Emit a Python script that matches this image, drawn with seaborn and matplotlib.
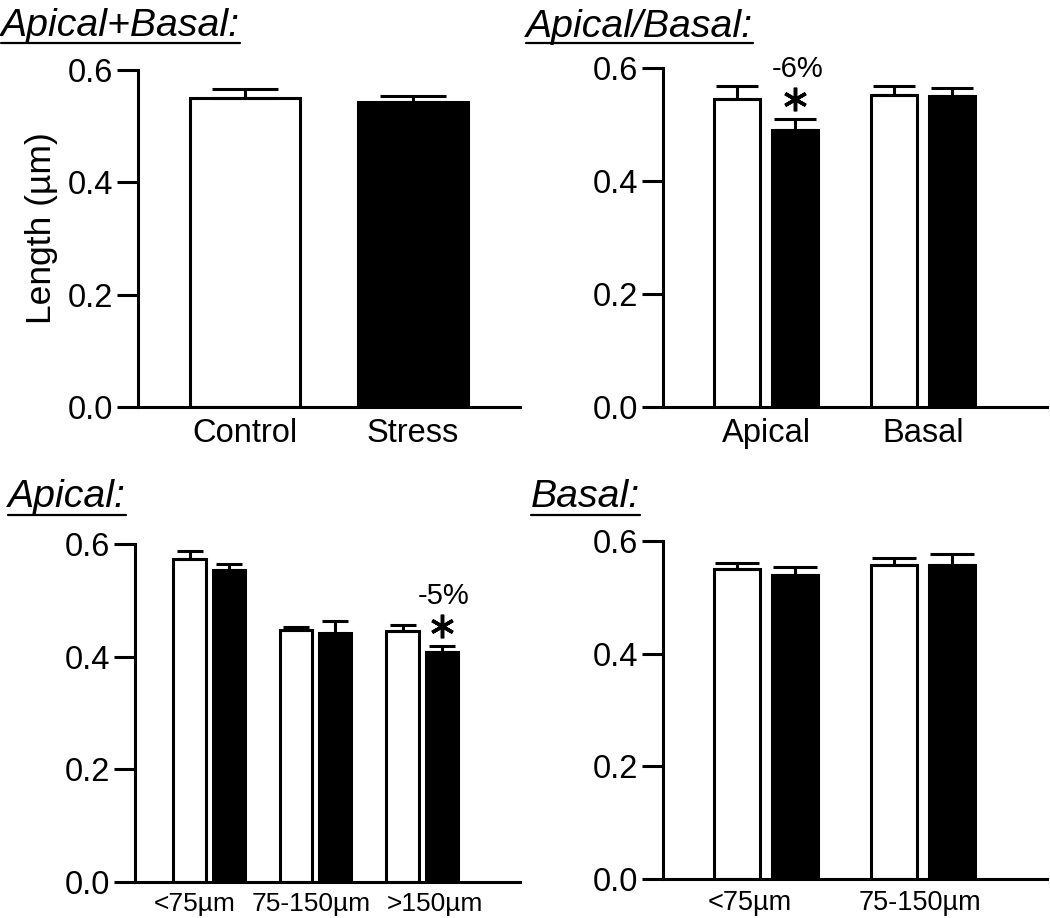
import pandas as pd
import numpy as np
import matplotlib.pyplot as plt
from matplotlib.lines import Line2D
from matplotlib.transforms import ScaledTranslation
import seaborn as sns

# ── Data ───────────────────────────────────────────────────────────────────
conditions = ["Control", "Stress"]

# Apical+Basal pooled
pooled_mean = [0.551, 0.543]
pooled_sem = [0.015, 0.011]

# Apical / Basal split
region_labels = ["Apical", "Basal"]
region_ctrl = [0.546, 0.552]
region_ctrl_sem = [0.023, 0.016]
region_stress = [0.491, 0.550]
region_stress_sem = [0.019, 0.014]

# Apical by distance
apical_labels = ["<75µm", "75-150µm", ">150µm"]
apical_ctrl = [0.574, 0.448, 0.446]
apical_ctrl_sem = [0.014, 0.005, 0.010]
apical_stress = [0.554, 0.442, 0.409]
apical_stress_sem = [0.010, 0.022, 0.010]

# Basal by distance
basal_labels = ["<75µm", "75-150µm"]
basal_ctrl = [0.550, 0.557]
basal_ctrl_sem = [0.0115, 0.012]
basal_stress = [0.540, 0.557]
basal_stress_sem = [0.013, 0.0205]

# ── Style ──────────────────────────────────────────────────────────────────
sns.set_style("ticks")
plt.rcParams["font.family"] = ["Liberation Sans", "DejaVu Sans"]
plt.rcParams["text.color"] = "black"
plt.rcParams["axes.labelcolor"] = "black"
PALETTE = {"Control": "white", "Stress": "black"}
LW = 2.2

W, H = 1050, 918
fig = plt.figure(figsize=(W / 100, H / 100), dpi=100)


def ax_at(l, r, t, b):
    return fig.add_axes([l / W, 1 - b / H, (r - l) / W, (b - t) / H])


def grouped_df(labels, ctrl, stress):
    return pd.DataFrame({
        "group": labels * 2,
        "cond": ["Control"] * len(labels) + ["Stress"] * len(labels),
        "value": list(ctrl) + list(stress),
    })


def style_axis(ax, xlim, xfont, xpad):
    ax.set_ylim(0, 0.6)
    ax.set_yticks([0.0, 0.2, 0.4, 0.6])
    ax.set_yticklabels(["0.0", "0.2", "0.4", "0.6"])
    ax.set_xlim(*xlim)
    sns.despine(ax=ax)
    for s in ["left", "bottom"]:
        ax.spines[s].set_linewidth(LW)
        ax.spines[s].set_color("black")
    ax.tick_params(axis="y", length=15, width=LW, color="black",
                   labelsize=23.5, pad=3, labelcolor="black")
    ax.tick_params(axis="x", length=0, labelsize=xfont, pad=xpad,
                   labelcolor="black")
    ax.set_xlabel("")
    ax.set_ylabel("")


def shift_xlabels(ax, shifts_px):
    # nudge category labels sideways (pixels)
    for lab, dx in zip(ax.get_xticklabels(), shifts_px):
        lab.set_transform(lab.get_transform()
                          + ScaledTranslation(dx / 100, 0, fig.dpi_scale_trans))


def add_errors(ax, sems, capsize):
    bars = ax.patches
    xs = [p.get_x() + p.get_width() / 2 for p in bars]
    ys = [p.get_height() for p in bars]
    ax.errorbar(xs, ys, yerr=[np.zeros(len(sems)), sems], fmt="none",
                ecolor="black", elinewidth=LW, capsize=capsize,
                capthick=LW, zorder=1)
    return xs, ys


def add_star(ax, x, top, pct):
    ax.plot([x], [top + 0.036], marker=(6, 2, 0), markersize=17,
            markeredgewidth=2.5, color="black", clip_on=False)
    ax.text(x + 0.02, top + 0.088, pct, ha="center", va="center",
            fontsize=21, color="black", clip_on=False)


def panel_title(x, y_base, y_line, text):
    t = fig.text(x / W, 1 - y_base / H, text, fontsize=28.3, style="italic",
                 ha="left", va="baseline", color="black")
    return t, y_line


# ── Panel 1: Apical+Basal ──────────────────────────────────────────────────
ax1 = ax_at(138, 520, 70, 407)
df1 = pd.DataFrame({"cond": conditions, "value": pooled_mean})
sns.barplot(data=df1, x="cond", y="value", hue="cond", palette=PALETTE,
            width=0.65, edgecolor="black", linewidth=LW, legend=False,
            errorbar=None, ax=ax1)
add_errors(ax1, pooled_sem, 24)
style_axis(ax1, (-0.637, 1.637), 23.5, 8)
ax1.set_ylabel("Length (µm)", fontsize=25.5)
ax1.yaxis.set_label_coords(-0.21, 0.53)

# ── Panel 2: Apical/Basal ──────────────────────────────────────────────────
ax2 = ax_at(663, 1047, 68, 407)
df2 = grouped_df(region_labels, region_ctrl, region_stress)
sns.barplot(data=df2, x="group", y="value", hue="cond", palette=PALETTE,
            width=0.732, gap=0.2, edgecolor="black", linewidth=LW,
            legend=False, errorbar=None, ax=ax2)
xs2, _ = add_errors(ax2, region_ctrl_sem + region_stress_sem, 15)
style_axis(ax2, (-0.656, 1.79), 23.5, 8)
add_star(ax2, xs2[2], region_stress[0] + region_stress_sem[0], "-6%")

# ── Panel 3: Apical by distance ────────────────────────────────────────────
ax3 = ax_at(135, 520, 544, 882)
df3 = grouped_df(apical_labels, apical_ctrl, apical_stress)
sns.barplot(data=df3, x="group", y="value", hue="cond", palette=PALETTE,
            width=0.733, gap=0.18, edgecolor="black", linewidth=LW,
            legend=False, errorbar=None, ax=ax3)
xs3, _ = add_errors(ax3, apical_ctrl_sem + apical_stress_sem, 9.7)
style_axis(ax3, (-0.695, 2.92), 19, 7)
shift_xlabels(ax3, [-14, -4, 13])
add_star(ax3, xs3[5], apical_stress[2] + apical_stress_sem[2], "-5%")

# ── Panel 4: Basal by distance ─────────────────────────────────────────────
ax4 = ax_at(663, 1047, 541, 879)
df4 = grouped_df(basal_labels, basal_ctrl, basal_stress)
sns.barplot(data=df4, x="group", y="value", hue="cond", palette=PALETTE,
            width=0.732, gap=0.2, edgecolor="black", linewidth=LW,
            legend=False, errorbar=None, ax=ax4)
add_errors(ax4, basal_ctrl_sem + basal_stress_sem, 16)
style_axis(ax4, (-0.656, 1.79), 19.5, 8)
shift_xlabels(ax4, [-16, -3])

# ── Underlined panel titles ────────────────────────────────────────────────
titles = [
    panel_title(1, 36, 43, "Apical+Basal:"),
    panel_title(526, 37, 43, "Apical/Basal:"),
    panel_title(8, 507, 515, "Apical:"),
    panel_title(531, 507, 515, "Basal:"),
]
fig.canvas.draw()
for t, y_line in titles:
    bb = t.get_window_extent()
    fig.add_artist(Line2D([bb.x0 / W, bb.x1 / W], [1 - y_line / H] * 2,
                          transform=fig.transFigure, color="black", lw=1.6))

fig.savefig("out.png", dpi=100)
